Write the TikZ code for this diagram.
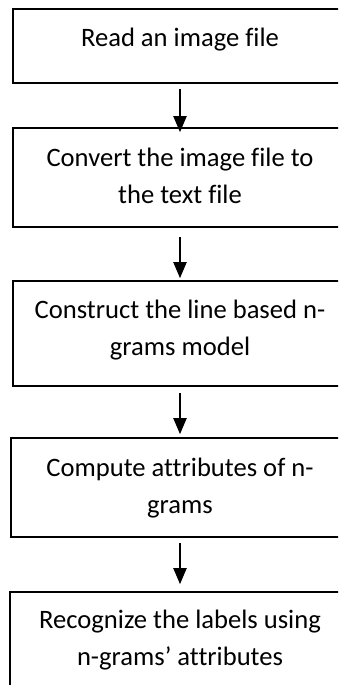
\documentclass[tikz,border=0pt]{standalone}
\usepackage{fontspec}
\setmainfont[Ligatures=NoCommon]{Carlito}
\usetikzlibrary{arrows.meta}

\begin{document}
\begin{tikzpicture}[x=1pt,y=-1pt,
  stepbox/.style={draw=black,line width=1.6pt,fill=white,inner sep=0pt,
                  minimum width=334pt},
  steptext/.style={anchor=base,align=center,inner sep=0pt,
                   font=\fontsize{26.6}{37}\selectfont},
  flow/.style={line width=2pt,-{Triangle[width=13pt,length=16pt]}}]

  % page area; the boxes run past the right and bottom edges
  \clip (0,0) rectangle (338,685);
  \fill[white] (0,0) rectangle (338,685);

  % process boxes
  \node[stepbox,minimum height=74pt]  (b1) at (180,46)    {};
  \node[stepbox,minimum height=99pt]  (b2) at (180,177.5) {};
  \node[stepbox,minimum height=105pt] (b3) at (180,333.5) {};
  \node[stepbox,minimum height=99pt,minimum width=338pt] (b4) at (180,487.5) {};
  \node[stepbox,minimum height=96pt,minimum width=340pt]  (b5) at (180,640)   {};

  % box captions (base anchor sits on the last line)
  \node[steptext] (t1) at (180,47)  {Read an image file};
  \node[steptext] (t2) at (180,203) {Convert the image file to\\the text file};
  \node[steptext] (t3) at (180,355) {Construct the line based n-\\grams model};
  \node[steptext] (t4) at (180,513) {Compute attributes of n-\\grams};
  \node[steptext] (t5) at (180,665) {Recognize the labels using\\n-grams’ attributes};

  % arrows between the steps
  \draw[flow,shorten <=5pt,shorten >=-5pt] (b1.south) -- (b2.north);
  \draw[flow,shorten <=9pt,shorten >=2pt]  (b2.south) -- (b3.north);
  \draw[flow,shorten <=6pt,shorten >=3pt]  (b3.south) -- (b4.north);
  \draw[flow,shorten <=5pt,shorten >=7pt]  (b4.south) -- (b5.north);
\end{tikzpicture}
\end{document}
